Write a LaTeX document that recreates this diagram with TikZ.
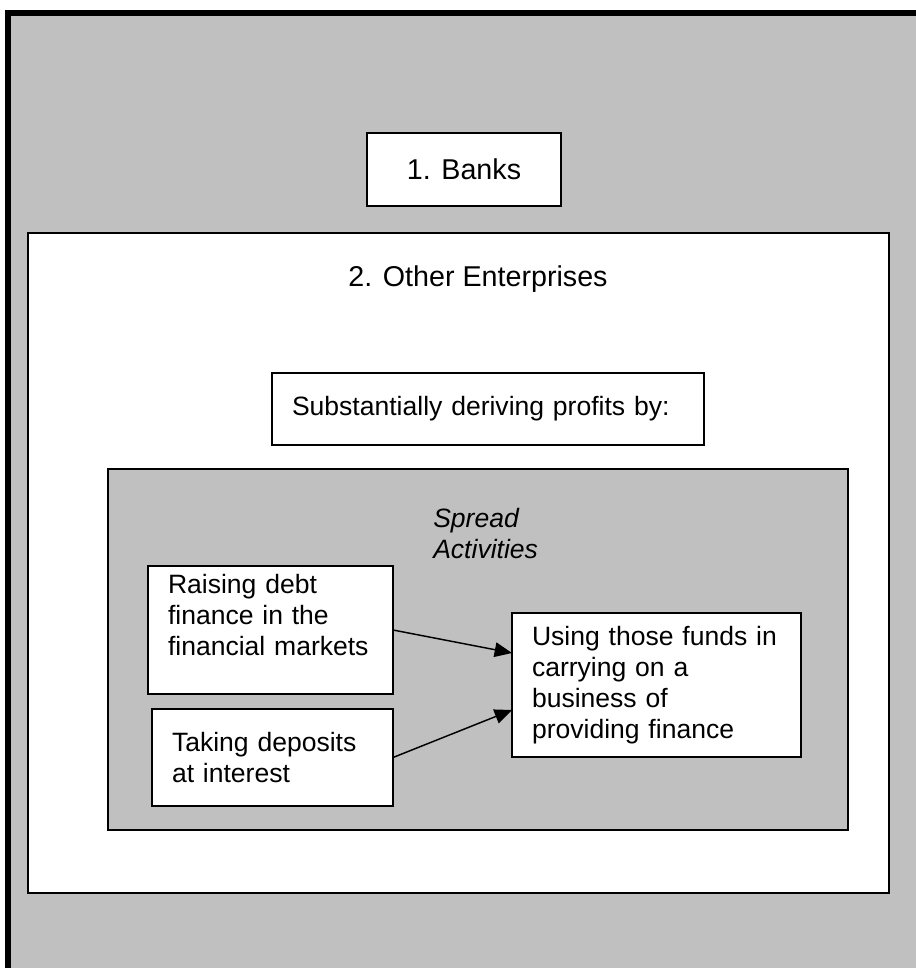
\documentclass[tikz,border=0pt]{standalone}
\usepackage{fontspec}
\setmainfont{Liberation Sans}
\usetikzlibrary{arrows.meta}
\definecolor{panelgrey}{RGB}{192,192,192}

\begin{document}
\begin{tikzpicture}[x=0.75pt,y=-0.75pt,
    txt/.style={font=\fontsize{19.9}{23.25}\selectfont},
    head/.style={font=\fontsize{21.5}{25}\selectfont},
    card/.style={draw,fill=white,line width=1.1pt,anchor=north west,outer sep=0pt,
      inner xsep=15pt,inner ysep=0pt,align=left,txt},
    flow/.style={-{Triangle[length=13pt,width=11pt]},line width=1.1pt}]
      \useasboundingbox (0,0) rectangle (916,968);
      % frames
      \draw[fill=panelgrey,line width=4.1pt] (8,13) rectangle (940,1000);
      \draw[fill=white,line width=1.2pt] (28,233) rectangle (889,893);
      \draw[fill=panelgrey,line width=1.1pt] (108,469) rectangle (848,830);
      \draw
        (367,133) node[card,head,align=center,minimum width=145.5pt,minimum height=54.75pt] (banks){1. Banks}
        (478,286) node[head,anchor=base] (others){2. Other Enterprises}
        (272,373) node[card,text width=294pt,minimum height=54pt] (deriving){Substantially deriving profits by:}
        (433,508) node[anchor=north west,inner sep=0pt,align=left,font=\fontsize{19.9}{23.25}\selectfont\itshape] (spread){Spread\\Activities}
        (148,566) node[card,text width=153.75pt,minimum height=96pt] (raising){Raising debt\\finance in the\\financial markets\\\mbox{}}
        (152,709) node[card,text width=150.75pt,minimum height=72.75pt] (taking){Taking deposits\\at interest}
        (512,613) node[card,text width=186.75pt,minimum height=108pt] (using){Using those funds in\\carrying on a\\business of\\providing finance};
      \begin{scope}[flow]
        \draw (raising.east) to ([yshift=24pt]using.west);
        \draw (taking.east) to ([yshift=-18.75pt]using.west);
      \end{scope}
\end{tikzpicture}
\end{document}
